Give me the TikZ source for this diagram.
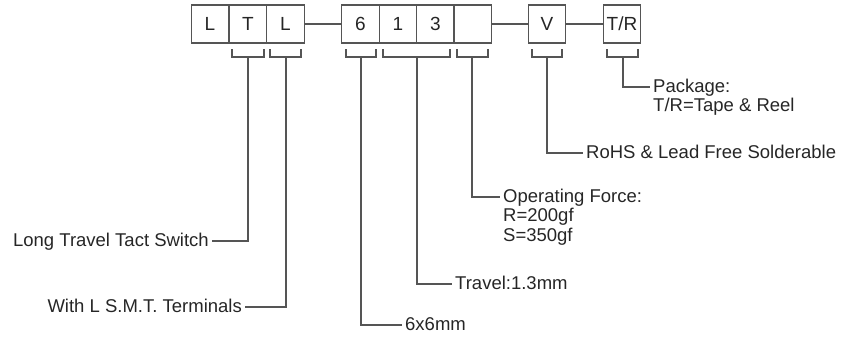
\documentclass[tikz,border=0pt]{standalone}
\usepackage{fontspec}
\setmainfont{Liberation Sans}
\definecolor{ln}{HTML}{555555}
\definecolor{txt}{HTML}{262626}
\begin{document}
\begin{tikzpicture}[x=1pt,y=-1pt,
  cell/.style={draw=ln, line width=1.2pt, minimum width=37.5pt, minimum height=38pt, inner sep=0pt, text=txt, font=\fontsize{19}{21}\selectfont},
  lbl/.style={inner xsep=3pt, inner ysep=0pt, text height=14.75pt, text depth=4.75pt, text=txt, font=\fontsize{18.5}{19.5}\selectfont},
  wire/.style={draw=ln, line width=1.2pt}]
\useasboundingbox (0,0) rectangle (847,340);
% boxes
\node[cell] (c1) at (210,24) {L};
\node[cell] (c2) at (248,24) {T};
\node[cell] (c3) at (285.5,24) {L};
\node[cell] (c4) at (360.5,24) {6};
\node[cell] (c5) at (398,24) {1};
\node[cell] (c6) at (435.5,24) {3};
\node[cell] (c7) at (472.5,24) {};
\node[cell] (c8) at (547,24) {V};
\node[cell] (c9) at (622,24) {T/R};
\draw[wire] (c3.east) -- (c4.west);
\draw[wire] (c7.east) -- (c8.west);
\draw[wire] (c8.east) -- (c9.west);
% brackets
\draw[wire] (232,49) -- (232,57) -- (264,57) -- (264,49);
\draw[wire] (270,49) -- (270,57) -- (301,57) -- (301,49);
\draw[wire] (346,49) -- (346,57) -- (376,57) -- (376,49);
\draw[wire] (383,49) -- (383,57) -- (450,57) -- (450,49);
\draw[wire] (457,49) -- (457,57) -- (488,57) -- (488,49);
\draw[wire] (532,49) -- (532,57) -- (562,57) -- (562,49);
\draw[wire] (607,49) -- (607,57) -- (638,57) -- (638,49);
\coordinate (s2) at (248,57);
\coordinate (s3) at (286,57);
\coordinate (s4) at (361,57);
\coordinate (s5) at (417,57);
\coordinate (s7) at (472,57);
\coordinate (s8) at (547,57);
\coordinate (s9) at (623,57);
% labels
\node[lbl, anchor=east] (lts) at (212,241) {Long Travel Tact Switch};
\node[lbl, anchor=east] (wls) at (245,307) {With L S.M.T. Terminals};
\node[lbl, anchor=west] (six) at (402,325) {6x6mm};
\node[lbl, anchor=west] (trv) at (452,284) {Travel:1.3mm};
\node[lbl, anchor=west] (opf) at (500,197) {Operating Force:};
\node[lbl, anchor=north west] (opr) at (opf.south west) {R=200gf};
\node[lbl, anchor=north west] (ops) at (opr.south west) {S=350gf};
\node[lbl, anchor=west] (rohs) at (583,153) {RoHS \& Lead Free Solderable};
\node[lbl, anchor=west] (pkg) at (650,87) {Package:};
\node[lbl, anchor=north west] (pkr) at (pkg.south west) {T/R=Tape \& Reel};
% connectors
\draw[wire] (s2) |- (lts.east);
\draw[wire] (s3) |- (wls.east);
\draw[wire] (s4) |- (six.west);
\draw[wire] (s5) |- (trv.west);
\draw[wire] (s7) |- (opf.west);
\draw[wire] (s8) |- (rohs.west);
\draw[wire] (s9) |- (pkg.west);
\end{tikzpicture}
\end{document}
